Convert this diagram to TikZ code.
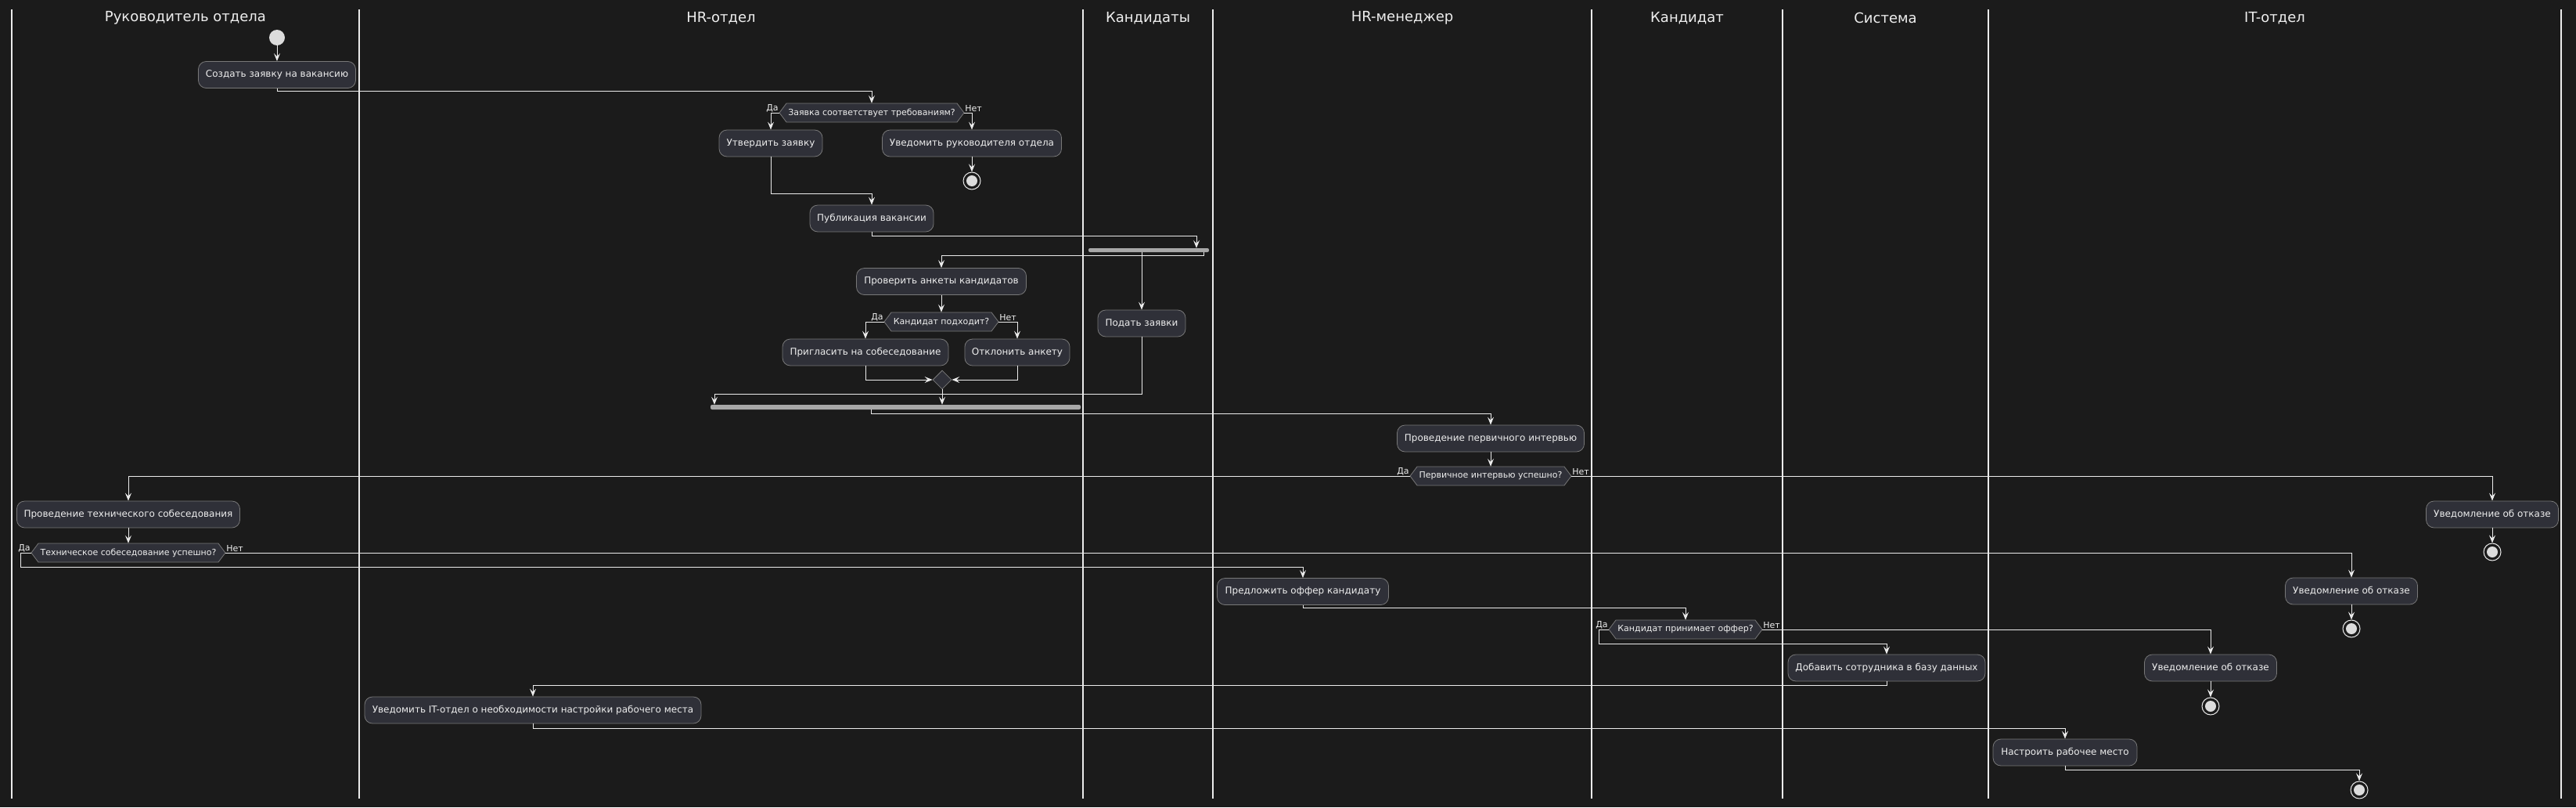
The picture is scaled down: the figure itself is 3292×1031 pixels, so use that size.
\documentclass[tikz,border=0pt]{standalone}
\usepackage{fontspec}
\setmainfont{DejaVu Sans}
\usetikzlibrary{arrows.meta,calc,shapes.geometric}
\definecolor{bg}{RGB}{27,27,27}
\definecolor{boxfill}{RGB}{47,48,56}
\definecolor{boxline}{RGB}{120,120,120}
\definecolor{txt}{RGB}{238,238,238}
\definecolor{ln}{RGB}{235,235,235}
\definecolor{barc}{RGB}{168,168,168}
\definecolor{dotc}{RGB}{220,220,220}
\newcommand\mydec[5]{%
  \draw[decshape] (#2,#4) -- ({#2+9},{#4-12}) -- ({#3-9},{#4-12}) -- (#3,#4) -- ({#3-9},{#4+12}) -- ({#2+9},{#4+12}) -- cycle;
  \node[dectxt, minimum width={#3-#2}] (#1) at ({(#2+#3)/2},#4) {#5};}
\begin{document}
\begin{tikzpicture}[x=1pt,y=-1pt,
  act/.style={draw=boxline, fill=boxfill, rounded corners=10pt, minimum height=34pt, inner xsep=9pt, inner ysep=0pt, text=txt, font=\fontsize{12}{14}\selectfont, line width=0.8pt},
  dectxt/.style={minimum height=24pt, inner sep=0pt, text=txt, font=\fontsize{11}{13}\selectfont},
  decshape/.style={draw=boxline, fill=boxfill, line width=0.8pt},
  flow/.style={draw=ln, line width=1pt, -{Stealth[length=10pt,width=8pt,inset=4pt]}},
  lane/.style={draw=ln, line width=1.2pt},
  lanetitle/.style={text=txt, font=\fontsize{18}{21}\selectfont},
  lbl/.style={text=txt, font=\fontsize{11}{13}\selectfont, inner sep=1pt},
  barst/.style={fill=barc, rounded corners=2pt, inner sep=0pt},
  startst/.style={circle, fill=dotc, minimum size=20pt, inner sep=0pt},
  stopst/.style={circle, draw=ln, line width=1pt, minimum size=22pt, inner sep=0pt, path picture={\fill[dotc] (path picture bounding box.center) circle (7pt);}},
]
\fill[bg] (0,0) rectangle (3292,1031);
\useasboundingbox (0,0) rectangle (3292,1031);

% swimlanes
\foreach \lx in {15,459,1384,1550,2034,2278,2541,3273} {\draw[lane] (\lx,12) -- (\lx,1020);}
\node[lanetitle] (t1) at (237,23) {Руководитель отдела};
\node[lanetitle] (t2) at (921.5,23) {HR-отдел};
\node[lanetitle] (t3) at (1467,23) {Кандидаты};
\node[lanetitle] (t4) at (1792,23) {HR-менеджер};
\node[lanetitle] (t5) at (2156,23) {Кандидат};
\node[lanetitle] (t6) at (2409.5,23) {Система};
\node[lanetitle] (t7) at (2907,23) {IT-отдел};

% nodes
\node[startst] (start) at (354,48) {};
\node[act, minimum width=201pt] (create) at (354,95.5) {Создать заявку на вакансию};
\mydec{d1}{996}{1232}{144}{Заявка соответствует требованиям?}
\node[act, minimum width=132pt] (approve) at (985,183) {Утвердить заявку};
\node[act, minimum width=229pt] (notify) at (1242,183) {Уведомить руководителя отдела};
\node[stopst] (s1) at (1242,231) {};
\node[act, minimum width=158pt] (publish) at (1114,279) {Публикация вакансии};
\node[barst, minimum width=154pt, minimum height=5pt] (f1) at (1468,319.5) {};
\node[act, minimum width=217pt] (check) at (1203,359.5) {Проверить анкеты кандидатов};
\mydec{d2}{1130}{1276}{411}{Кандидат подходит?}
\node[act, minimum width=212pt] (invite) at (1106,450) {Пригласить на собеседование};
\node[act, minimum width=134pt] (reject) at (1300,450) {Отклонить анкету};
\node[act, minimum width=112pt] (submit) at (1459,413) {Подать заявки};
\node[draw=boxline, fill=boxfill, line width=0.8pt, diamond, minimum width=24pt, minimum height=24pt, inner sep=0pt, shape aspect=1] (m1) at (1204,485) {};
\node[barst, minimum width=473pt, minimum height=6pt] (j1) at (1144.5,520) {};
\node[act, minimum width=239pt] (primary) at (1905,560) {Проведение первичного интервью};
\mydec{d3}{1802}{2008}{608}{Первичное интервью успешно?}
\node[act, minimum width=285pt] (tech) at (164,657) {Проведение технического собеседования};
\mydec{d4}{40}{288}{706}{Техническое собеседование успешно?}
\node[act, minimum width=169pt] (rej1) at (3185,657) {Уведомление об отказе};
\node[stopst] (s2) at (3185,705) {};
\node[act, minimum width=219pt] (offer) at (1665,755.5) {Предложить оффер кандидату};
\node[act, minimum width=169pt] (rej2) at (3005,755) {Уведомление об отказе};
\node[stopst] (s3) at (3005,803) {};
\mydec{d5}{2056}{2252}{804}{Кандидат принимает оффер?}
\node[act, minimum width=252pt] (addDB) at (2411,853) {Добавить сотрудника в базу данных};
\node[act, minimum width=169pt] (rej3) at (2825,853) {Уведомление об отказе};
\node[stopst] (s4) at (2825,902) {};
\node[act, minimum width=430pt] (notifyIT) at (681,907) {Уведомить IT-отдел о необходимости настройки рабочего места};
\node[act, minimum width=184pt] (setup) at (2639,961) {Настроить рабочее место};
\node[stopst] (s5) at (3015,1009) {};

% branch labels
\node[lbl, anchor=south east] at (d1.west) {Да};
\node[lbl, anchor=south west] at (d1.east) {Нет};
\node[lbl, anchor=south east] at (d2.west) {Да};
\node[lbl, anchor=south west] at (d2.east) {Нет};
\node[lbl, anchor=south east] at (d3.west) {Да};
\node[lbl, anchor=south west] at (d3.east) {Нет};
\node[lbl, anchor=south east] at (d4.west) {Да};
\node[lbl, anchor=south west] at (d4.east) {Нет};
\node[lbl, anchor=south east] at (d5.west) {Да};
\node[lbl, anchor=south west] at (d5.east) {Нет};

% connectors
\draw[flow] (start) -- (create);
\draw[flow] (create.south) -- ++(0,4) -| (d1.north);
\draw[flow] (d1.west) -| (approve.north);
\draw[flow] (d1.east) -| (notify.north);
\draw[flow] (notify.south) -- (s1.north);
\draw[flow] (approve.south) -- ++(0,47) -| (publish.north);
\draw[flow] (publish.south) -- ++(0,5) -| ([xshift=61pt]f1.north);
\draw[flow] ([xshift=70pt]f1.south) -- ++(0,4) -| (check.north);
\draw[flow] ([xshift=-9pt]f1.south) -- (submit.north);
\draw[flow] (check.south) -- (d2.north);
\draw[flow] (d2.west) -| (invite.north);
\draw[flow] (d2.east) -| (reject.north);
\draw[flow] (invite.south) |- (m1.west);
\draw[flow] (reject.south) |- (m1.east);
\draw[flow] (m1.south) -- (m1.south |- j1.north);
\draw[flow] (submit.south) -- ++(0,73) -| ([xshift=-231.5pt]j1.north);
\draw[flow] ([xshift=-31.5pt]j1.south) -- ++(0,5) -| (primary.north);
\draw[flow] (primary.south) -- (d3.north);
\draw[flow] (d3.west) -| (tech.north);
\draw[flow] (d3.east) -| (rej1.north);
\draw[flow] (rej1.south) -- (s2.north);
\draw[flow] (tech.south) -- (d4.north);
\draw[flow] (d4.west) -- ++(-13,0) -- ++(0,18) -| (offer.north);
\draw[flow] (d4.east) -| (rej2.north);
\draw[flow] (rej2.south) -- (s3.north);
\draw[flow] (offer.south) -- ++(0,4) -| (d5.north);
\draw[flow] (d5.west) -- ++(-12,0) -- ++(0,18) -| (addDB.north);
\draw[flow] (d5.east) -| (rej3.north);
\draw[flow] (rej3.south) -- (s4.north);
\draw[flow] (addDB.south) -- ++(0,5) -| (notifyIT.north);
\draw[flow] (notifyIT.south) -- ++(0,6) -| (setup.north);
\draw[flow] (setup.south) -- ++(0,5) -| (s5.north);
\end{tikzpicture}
\end{document}
